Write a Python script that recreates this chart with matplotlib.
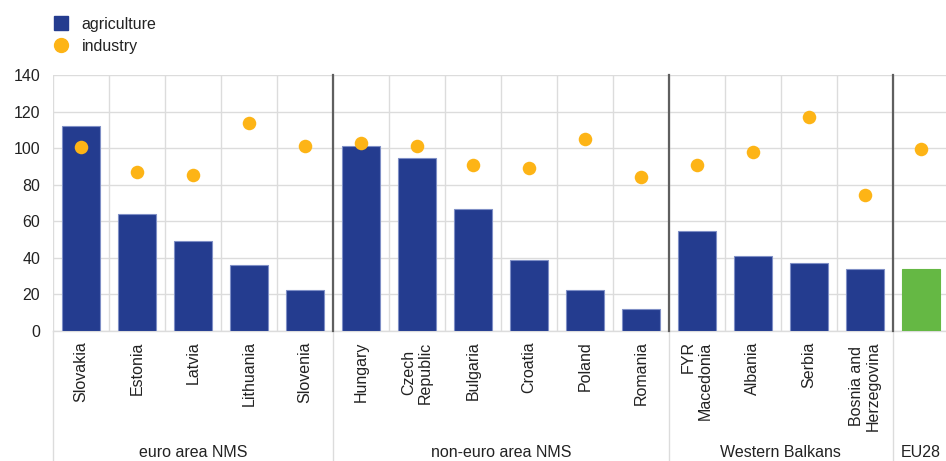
import matplotlib.pyplot as plt
from matplotlib.lines import Line2D
import matplotlib.transforms as mtransforms
import numpy as np

plt.rcParams['font.family'] = ['Liberation Sans', 'DejaVu Sans']
plt.rcParams['font.size'] = 11.5

# ---------------------------------------------------------
# Data
# ---------------------------------------------------------
countries = [
    "Slovakia", "Estonia", "Latvia", "Lithuania", "Slovenia",
    "Hungary", "Czech\nRepublic", "Bulgaria", "Croatia", "Poland", "Romania",
    "FYR\nMacedonia", "Albania", "Serbia", "Bosnia and\nHerzegovina",
    "",
]
agriculture = [112, 64, 49, 36, 22.4, 101, 94.6, 66.7, 39, 22.4, 12,
               54.5, 41, 37, 34, 34]
industry = [100.4, 86.9, 85.3, 113.7, 101, 103, 101.3, 90.6, 89.1, 104.8, 84,
            90.6, 98, 117.2, 74.2, 99.5]
groups = ["euro area NMS", "non-euro area NMS", "Western Balkans", "EU28"]
group_sizes = [5, 6, 4, 1]

navy = "#243c8f"
gold = "#fdb416"
green = "#65b844"
grid_col = "#dcdcdc"
sep_col = "#5f5f5f"
text_col = "#222222"

# ---------------------------------------------------------
# Figure
# ---------------------------------------------------------
fig = plt.figure(figsize=(9.46, 4.61), dpi=100)
ax = fig.add_axes([53.2 / 946, 130 / 461, 895.6 / 946, 256 / 461])

x = np.arange(len(countries))
bar_colors = [navy] * (len(countries) - 1) + [green]
edge_colors = ["#7f8fc6"] * (len(countries) - 1) + [green]

ax.bar(x, agriculture, width=0.67, color=bar_colors,
       edgecolor=edge_colors, linewidth=0.8, zorder=3)
ax.scatter(x, industry, s=95, color=gold, zorder=4, linewidths=0)

ax.set_xlim(-0.5, len(countries) - 0.5)
ax.set_ylim(0, 140)
ax.set_yticks(range(0, 141, 20))

ax.set_xticks(x)
ax.set_xticklabels(countries, rotation=90, va="top", ha="center")
for lab in ax.get_xticklabels():
    if lab.get_text().startswith("FYR"):
        lab.set_multialignment("right")
    else:
        lab.set_multialignment("center")

ax.set_xticks(np.arange(-0.5, len(countries), 1), minor=True)
ax.tick_params(axis="x", which="both", length=0, pad=7.5, colors=text_col)
ax.tick_params(axis="y", length=0, pad=9.5, colors=text_col)

ax.grid(axis="y", color=grid_col, linewidth=1, zorder=0)
ax.grid(axis="x", which="minor", color=grid_col, linewidth=1, zorder=0)
ax.grid(axis="x", which="major", visible=False)

for side in ["top", "right", "left"]:
    ax.spines[side].set_visible(False)
ax.spines["bottom"].set_color(grid_col)
ax.spines["bottom"].set_linewidth(1)

# ---------------------------------------------------------
# Group separators and labels
# ---------------------------------------------------------
trans = mtransforms.blended_transform_factory(ax.transData, ax.transAxes)
bounds = np.cumsum([0] + group_sizes) - 0.5

for b in bounds[1:-1]:
    ax.plot([b, b], [0, 1], transform=trans, color=sep_col,
            linewidth=1.6, zorder=5, clip_on=False)
for b in bounds[:-1]:
    ax.plot([b, b], [-0.52, 0], transform=trans, color=grid_col,
            linewidth=1, zorder=1, clip_on=False)

for i, name in enumerate(groups):
    mid = (bounds[i] + bounds[i + 1]) / 2
    ax.text(mid, -0.473, name, transform=trans, ha="center", va="center",
            color=text_col)

# ---------------------------------------------------------
# Legend
# ---------------------------------------------------------
handles = [
    Line2D([], [], marker="s", linestyle="none", markersize=10.5,
           color=navy, label="agriculture"),
    Line2D([], [], marker="o", linestyle="none", markersize=10,
           color=gold, label="industry"),
]
fig.legend(handles=handles, loc="upper left", bbox_to_anchor=(0.051, 0.978),
           frameon=False, handlelength=0.8, handletextpad=0.9,
           labelspacing=0.45, borderaxespad=0, labelcolor=text_col)

plt.savefig("out.png", dpi=100)
plt.close()
